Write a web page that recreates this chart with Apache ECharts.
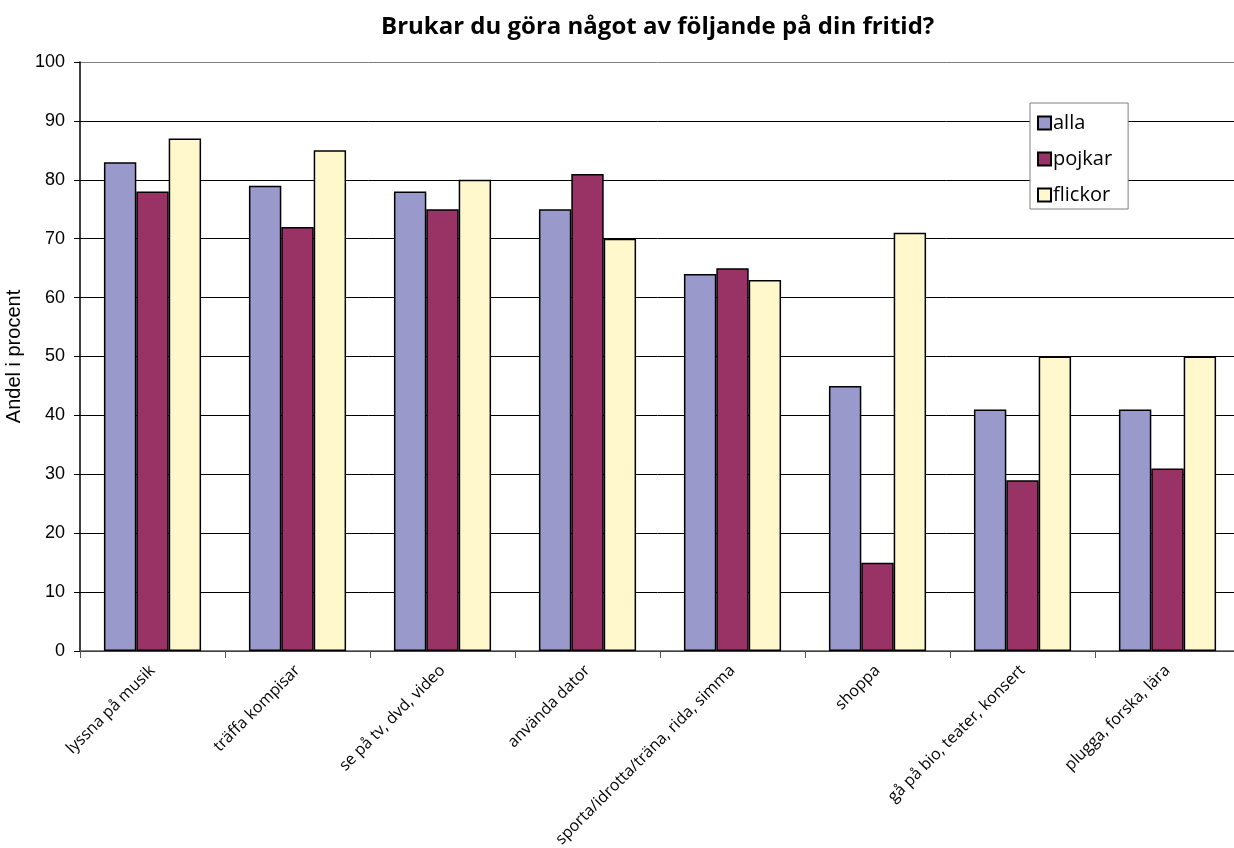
<!DOCTYPE html>
<html style="height: 100%">
<head>
<meta charset="utf-8">
</head>
<body style="height: 100%; margin: 0; background: #fff">
<div id="container" style="width: 1234px; height: 848px"></div>
<script type="text/javascript" src="https://cdn.jsdelivr.net/npm/echarts@6/dist/echarts.min.js"></script>
<script type="text/javascript">
var categories = ['lyssna på musik', 'träffa kompisar', 'se på tv, dvd, video', 'använda dator',
    'sporta/idrotta/träna, rida, simma', 'shoppa', 'gå på bio, teater, konsert', 'plugga, forska, lära'];
var alla = [83, 79, 78, 75, 64, 45, 41, 41];
var pojkar = [78, 72, 75, 81, 65, 15, 29, 31];
var flickor = [87, 85, 80, 70, 63, 71, 50, 50];

var myChart = echarts.init(document.getElementById('container'));

var gridColors = ['#000', '#000', '#000', '#000', '#000', '#000', '#000', '#000', '#000', '#000', '#808080'];

function barSeries(name, data, color) {
    return {
        name: name,
        type: 'bar',
        data: data,
        barGap: '0%',
        barCategoryGap: '33%',
        itemStyle: {
            color: color,
            borderColor: '#000',
            borderWidth: 1.5
        }
    };
}

var option = {
    animation: false,
    backgroundColor: '#fff',
    title: {
        text: 'Brukar du göra något av följande på din fritid?',
        left: 376,
        top: 10,
        textStyle: {
            fontFamily: 'Open Sans',
            fontWeight: 'bold',
            fontSize: 24,
            color: '#000'
        }
    },
    legend: {
        orient: 'vertical',
        left: 1030,
        top: 103,
        width: 99,
        padding: [9, 16, 3, 7],
        itemGap: 14,
        itemWidth: 13,
        itemHeight: 13,
        itemStyle: { borderWidth: 2, borderColor: '#000' },
        icon: 'rect',
        borderColor: '#808080',
        borderWidth: 1,
        backgroundColor: '#fff',
        textStyle: {
            fontFamily: 'Open Sans',
            fontSize: 20,
            color: '#000',
            padding: [0, 0, 0, -3],
            lineHeight: 22
        },
        data: ['alla', 'pojkar', 'flickor']
    },
    grid: {
        left: 80,
        top: 62,
        width: 1160,
        bottom: 197,
        outerBoundsMode: 'none'
    },
    xAxis: {
        type: 'category',
        data: categories,
        axisLine: { lineStyle: { color: '#555', width: 1.5 } },
        axisTick: { show: true, length: 7, lineStyle: { color: '#555' } },
        axisLabel: {
            rotate: 45,
            interval: 0,
            margin: 17,
            fontFamily: 'Open Sans',
            fontSize: 16,
            color: '#000'
        }
    },
    yAxis: {
        type: 'value',
        min: 0,
        max: 100,
        interval: 10,
        name: 'Andel i procent',
        nameLocation: 'middle',
        nameGap: 55,
        nameTextStyle: {
            fontFamily: 'Liberation Sans',
            fontSize: 20,
            color: '#000'
        },
        axisLine: { show: true, lineStyle: { color: '#000', width: 1.5 } },
        axisTick: { show: true, length: 6, lineStyle: { color: '#000' } },
        axisLabel: {
            margin: 15,
            fontFamily: 'Liberation Sans',
            fontSize: 18,
            color: '#000'
        },
        splitLine: { lineStyle: { color: gridColors, width: 1 } }
    },
    series: [
        barSeries('alla', alla, '#9999cc'),
        barSeries('pojkar', pojkar, '#993366'),
        barSeries('flickor', flickor, '#fff8cc')
    ]
};

myChart.setOption(option);
</script>
</body>
</html>
